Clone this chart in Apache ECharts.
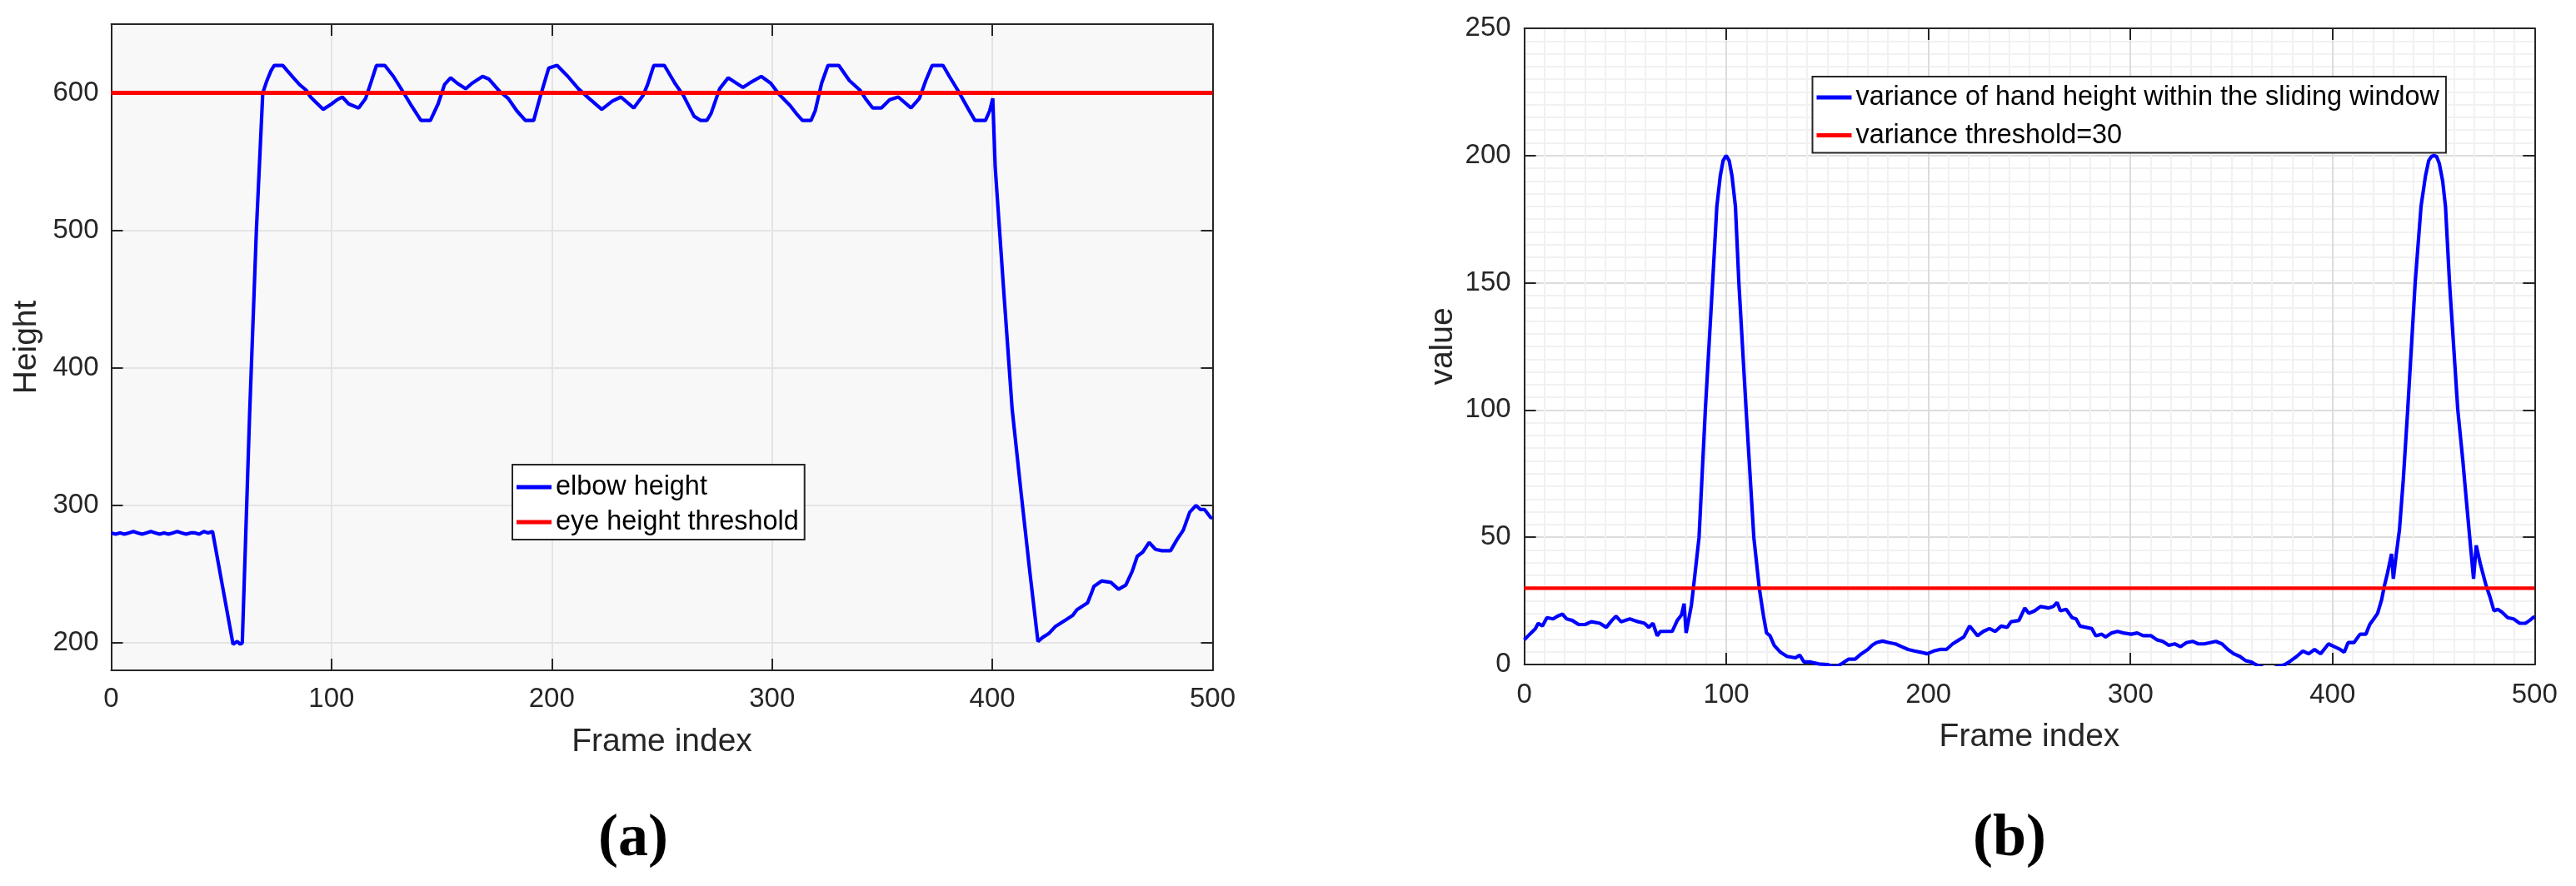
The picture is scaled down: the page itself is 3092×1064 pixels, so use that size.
<!DOCTYPE html>
<html><head><meta charset="utf-8">
<script src="https://cdn.jsdelivr.net/npm/echarts@6/dist/echarts.min.js"></script>
<style>html,body{margin:0;padding:0;background:#fff}#c{width:3092px;height:1064px}</style>
</head><body><div id="c"></div><script>
// ---------- (a) elbow height ----------
const A_frames = [
  0,2,4,6,8,10,12,14,16,18,
  20,22,24,26,28,30,32,34,36,38,
  40,42,44,46,
  55.3,57.2,58.6,59.5,61.5,62.8,65.9,68.8,70.7,72.5,
  74,77.9,80,82.7,85.5,88.5,90.5,92.4,96.2,100.1,
  102.5,104.9,107.8,112.3,115.5,118,120.4,124.2,128.1,132,
  135.8,140.6,144.9,148.4,151.3,154.1,157.1,160.9,163.8,168.6,
  171.5,176.4,180.2,184.1,188,191.8,194.7,198.6,202.4,207.3,
  212.1,216.9,222.7,227.5,231.4,237.2,241.4,243.5,246.3,251.1,
  255.9,259.8,264.6,267.5,270.4,272.3,276.2,280.1,283.9,286.8,
  290.7,295.1,299.4,303.2,308.1,311,313.8,317.7,319.6,322.5,
  325.4,330.3,335.1,339.9,342.8,345.7,349.6,353.4,357.3,363.1,
  366.9,369.8,372.7,377.6,380.5,384.3,389.2,392.1,396.9,398.8,
  400.2,401.3,405,409,413,417,420.7,422.9,425.8,428.7,
  433.6,436.5,438.4,443.2,445.2,446.1,449.6,453.8,457.3,460.6,
  463.5,465.8,468.3,471.2,474.1,477,480.9,483.8,486.7,489.6,
  492.5,494.4,496.3,499.2,500
];
const A_height = [
  280,279,280,279,280,281,280,279,280,281,
  280,279,280,279,280,281,280,279,280,280,
  279,281,280,281,
  199,201,199,200,300,365,500,600,609,616,
  620,620,616,611,606,602,597,594,588,592,
  595,597,592,589,596,608,620,620,612,602,
  592,580,580,592,606,611,607,603,607,612,
  610,601,596,587,580,580,597,618,620,612,
  603,596,588,594,597,589,598,606,620,620,
  607,598,583,580,580,585,603,611,607,604,
  608,612,607,599,591,585,580,580,587,607,
  620,620,609,602,595,589,589,595,597,589,
  596,609,620,620,612,602,588,580,580,587,
  596,546,460,370,310,252,201,204,207,212,
  217,220,224,229,237,241,245,244,239,242,
  252,263,266,273,268,267,267,275,282,295,
  300,297,297,291,291
];
const A_thrFrames = [0, 500];
const A_thrValues = [600, 600];
const A_yTicks = [200, 300, 400, 500, 600];

// ---------- (b) variance ----------
const B_frames = [
  0,2.7,5.5,6.9,9,11.2,14.3,16.4,18.9,21,
  23.8,26.9,30.1,33.2,37.4,40.6,43.3,45.4,47.9,52.2,
  56.4,59.5,61.6,63.7,65.8,67.3,70,73.2,75.7,77.8,
  79.1,80.1,82.7,83.7,86.5,89.6,93.2,95.3,97,98.4,
  99.9,101.4,102.8,104.5,106.2,109.8,113.6,116.3,118.4,119.9,
  121.6,123.7,126.8,130,134.2,136.3,138.4,141.6,145.8,150,
  154,157.3,160.5,163.7,166.8,170,172.1,174.2,177.3,180.5,
  183.7,186.8,190,193.1,196.3,199.4,202.6,205.7,208.9,212,
  215.2,217.5,220.4,222.1,224.3,227.2,230.2,233.1,236,239,
  240.9,244.8,247.7,249.7,252.6,255.5,259.4,261.8,263.7,265.3,
  268.2,271.1,273.1,275,278,280.9,282.8,285.8,287.7,290.7,
  293.6,296.5,300.4,303.3,306.3,310.2,313.1,316,319,321.9,
  324.8,327.7,330.7,333.6,336.5,339.4,342.3,345.3,348.2,351.1,
  354.1,357,359.9,361.9,368,376.5,379.4,382.3,385.3,388.2,
  391.1,394.1,398,400.9,403.8,405.8,407.7,410.6,413.6,416.5,
  418.4,420.4,422.3,424.3,425.7,427.2,429.2,430.1,431.5,433.1,
  435,437.2,440.9,443.8,446,447.6,448.9,450.2,451.5,452.8,
  454.5,455.9,457.9,462,464.5,466.2,468.2,469.8,471.1,473.1,
  476,477.9,479.9,481.8,483.8,486.7,489.6,492.6,495.5,497.5,
  500
];
const B_variance = [
  9.7,11.9,14.1,16.2,15.1,18.4,17.9,19,19.8,17.9,
  17.3,15.7,15.7,16.8,16.2,14.6,17.3,19,16.8,17.9,
  16.8,16.2,14.6,16.2,11.3,13,13,13,17.3,19.5,
  23.9,12.4,23.3,30,50,100,150,180,192,198,
  200,198,192,180,150,100,50,30,19,12.4,
  11.3,7.5,4.8,3.2,2.6,3.7,1,1,0.2,0,
  -1,0.4,2.1,2.1,4.2,5.9,7.5,8.6,9.2,8.6,
  8.1,7,5.9,5.3,4.8,4.2,5.3,5.9,5.9,8.1,
  9.7,10.8,15.1,13.5,11.3,13,14.1,13,15.1,14.6,
  16.8,17.3,22.2,20.1,21.1,22.8,22.2,22.8,24.4,21.1,
  21.7,18.4,17.9,15.1,14.6,14.1,11.3,11.9,10.8,12.4,
  13,12.4,11.9,12.4,11.3,11.3,9.7,9.1,7.5,8.1,
  7,8.6,9.1,8.1,8.1,8.6,9.1,8.1,5.9,4.2,
  3.2,1.5,1,0,-2,0,1.5,3.2,5.3,4.2,
  5.9,4.2,8.1,7,5.9,4.8,8.6,8.6,11.9,11.9,
  15.7,17.9,20.1,25.5,31,35.9,43.5,33.7,43,52.8,
  72.4,100,150,180,192,198,199.6,200,199.6,197,
  190,180,150,100,80,64.8,47.3,33.7,46.8,39.7,
  31,26.6,21.1,21.7,20.6,18.4,17.9,16.2,16.2,17.3,
  18.9
];
const B_thrFrames = [0, 500];
const B_thrValues = [30, 30];

const captions = ['(a)', '(b)'];
const legendA = ['elbow height', 'eye height threshold'];
const legendB = ['variance of hand height within the sliding window', 'variance threshold=30'];

// ---------- styling ----------
const FONT = '"Liberation Sans", Arial, Helvetica, sans-serif';
const AX = '#262626';
const axisLine = {show: true, onZero: false, lineStyle: {color: AX, width: 2}};
const tick = {show: true, inside: true, length: 14, lineStyle: {color: AX, width: 2}};
const labelStyle = {color: AX, fontSize: 33, fontFamily: FONT};
const nameStyle = {color: AX, fontSize: 39, fontFamily: FONT};

function mirror(base) {
  return Object.assign({}, base, {
    name: '', axisLabel: {show: false}, splitLine: {show: false},
    minorSplitLine: {show: false}
  });
}

const xA = {
  gridIndex: 0, type: 'value', min: 0, max: 500, interval: 100, position: 'bottom',
  axisLine, axisTick: tick,
  axisLabel: Object.assign({margin: 18}, labelStyle),
  splitLine: {show: true, lineStyle: {color: '#e4e4e4', width: 2}},
  name: 'Frame index', nameLocation: 'middle', nameGap: 67, nameTextStyle: nameStyle,
  nameMoveOverlap: false
};
const yA = {
  gridIndex: 0, type: 'value', min: 180, max: 650, position: 'left',
  axisLine, axisTick: Object.assign({customValues: A_yTicks}, tick),
  axisLabel: Object.assign({margin: 15, customValues: A_yTicks}, labelStyle),
  splitLine: {show: true, lineStyle: {color: '#e4e4e4', width: 2}},
  name: 'Height', nameLocation: 'middle', nameGap: 82, nameTextStyle: nameStyle,
  nameMoveOverlap: false
};
const xB = {
  gridIndex: 1, type: 'value', min: 0, max: 500, interval: 100, position: 'bottom',
  axisLine, axisTick: tick,
  axisLabel: Object.assign({margin: 20}, labelStyle),
  splitLine: {show: true, lineStyle: {color: '#dcdcdc', width: 2}},
  minorTick: {show: false, splitNumber: 10},
  minorSplitLine: {show: true, lineStyle: {color: '#f1f1f1', width: 2}},
  name: 'Frame index', nameLocation: 'middle', nameGap: 68, nameTextStyle: nameStyle,
  nameMoveOverlap: false
};
const yB = {
  gridIndex: 1, type: 'value', min: 0, max: 250, interval: 50, position: 'left',
  axisLine, axisTick: tick,
  axisLabel: Object.assign({margin: 16}, labelStyle),
  splitLine: {show: true, lineStyle: {color: '#dcdcdc', width: 2}},
  minorTick: {show: false, splitNumber: 10},
  minorSplitLine: {show: true, lineStyle: {color: '#f1f1f1', width: 2}},
  name: 'value', nameLocation: 'middle', nameGap: 78, nameTextStyle: nameStyle,
  nameMoveOverlap: false
};

function legend(names, left, top, padding, gap) {
  return {
    data: names.map(n => ({name: n})), orient: 'vertical', left, top, padding,
    itemGap: gap, itemWidth: 42, itemHeight: 5, icon: 'rect',
    backgroundColor: '#fff', borderColor: AX, borderWidth: 2, borderRadius: 0,
    selectedMode: false,
    textStyle: {fontSize: 32.4, color: '#000', fontFamily: FONT}
  };
}

function pairs(xs, ys) { return xs.map((x, i) => [x, ys[i]]); }

const option = {
  animation: false,
  textStyle: {fontFamily: FONT},
  grid: [
    {left: 133.5, top: 29, width: 1322, height: 776, show: true, backgroundColor: '#f8f8f8', borderWidth: 0, outerBoundsMode: 'none'},
    {left: 1829.6, top: 34, width: 1212.7, height: 764, show: true, backgroundColor: '#ffffff', borderWidth: 0, outerBoundsMode: 'none'}
  ],
  xAxis: [xA, Object.assign(mirror(xA), {position: 'top'}), xB, Object.assign(mirror(xB), {position: 'top'})],
  yAxis: [yA, Object.assign(mirror(yA), {position: 'right'}), yB, Object.assign(mirror(yB), {position: 'right'})],
  legend: [
    legend(legendA, 615, 558, [11, 7, 5, 5], 10),
    legend(legendB, 2175.5, 92, [9, 8, 5, 5], 13.6)
  ],
  series: [
    {type: 'line', name: legendA[0], xAxisIndex: 0, yAxisIndex: 0, data: pairs(A_frames, A_height),
     symbol: 'none', showSymbol: false, lineStyle: {color: '#0000ff', width: 4.2}, itemStyle: {color: '#0000ff'}},
    {type: 'line', name: legendA[1], xAxisIndex: 0, yAxisIndex: 0, data: pairs(A_thrFrames, A_thrValues),
     symbol: 'none', showSymbol: false, lineStyle: {color: '#ff0000', width: 5}, itemStyle: {color: '#ff0000'}},
    {type: 'line', name: legendB[0], xAxisIndex: 2, yAxisIndex: 2, data: pairs(B_frames, B_variance),
     symbol: 'none', showSymbol: false, lineStyle: {color: '#0000ff', width: 4.2}, itemStyle: {color: '#0000ff'}},
    {type: 'line', name: legendB[1], xAxisIndex: 2, yAxisIndex: 2, data: pairs(B_thrFrames, B_thrValues),
     symbol: 'none', showSymbol: false, lineStyle: {color: '#ff0000', width: 4.2}, itemStyle: {color: '#ff0000'}}
  ],
  graphic: [
    {type: 'text', x: 760, y: 1008, style: {text: captions[0], font: 'bold 72px "Liberation Serif", "Times New Roman", serif', fill: '#000', align: 'center', verticalAlign: 'middle'}},
    {type: 'text', x: 2412, y: 1008, style: {text: captions[1], font: 'bold 72px "Liberation Serif", "Times New Roman", serif', fill: '#000', align: 'center', verticalAlign: 'middle'}}
  ]
};
const chart = echarts.init(document.getElementById('c'), null, {renderer: 'canvas'});
chart.setOption(option);
</script></body></html>
